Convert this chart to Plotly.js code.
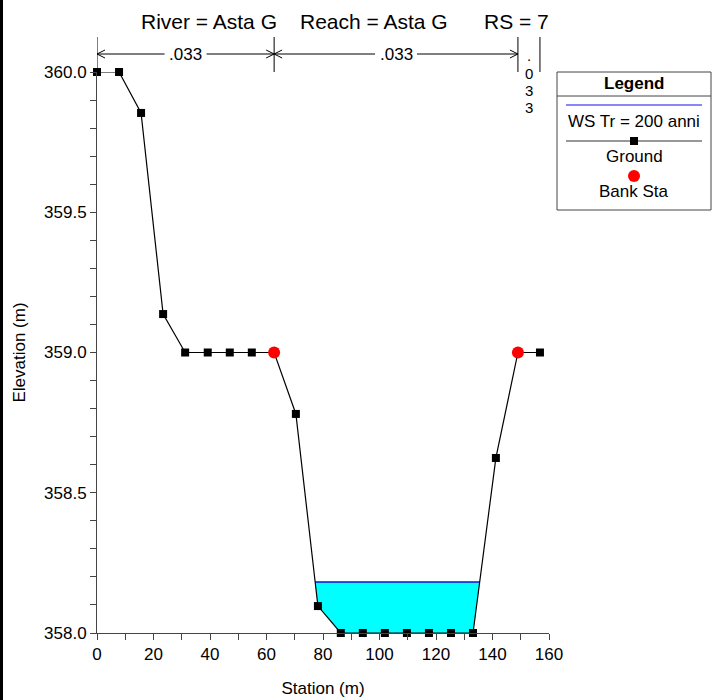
<!DOCTYPE html>
<html>
<head>
<meta charset="utf-8">
<script src="https://cdn.plot.ly/plotly-3.0.1.min.js"></script>
<style>
html,body{margin:0;padding:0;background:#fff;}
#chart{width:712px;height:700px;}
</style>
</head>
<body>
<div id="chart"></div>
<script>
// ---- Data ----
const groundStation = [0, 7.8, 15.6, 23.4, 31.2, 39.2, 47.0, 54.8, 62.7, 70.4, 78.2, 86.3, 94.1, 101.9, 109.7, 117.5, 125.3, 133.1, 141.2, 149.0, 156.8];
const groundElev    = [360.0, 360.0, 359.854, 359.137, 359.0, 359.0, 359.0, 359.0, 359.0, 358.781, 358.096, 358.0, 358.0, 358.0, 358.0, 358.0, 358.0, 358.0, 358.624, 359.0, 359.0];
const bankStation = [62.7, 149.0];
const bankElev    = [359.0, 359.0];
const wsElev = 358.182;
const nValues = ['.033', '.033', '.033'];
const titleParts = ['River = Asta G', 'Reach = Asta G', 'RS = 7'];
const legendLabels = ['WS Tr = 200 anni', 'Ground', 'Bank Sta'];

// ---- Geometry helpers ----
const W = 712, H = 700, mL = 97, mR = 163, mT = 72, mB = 67;
const plotW = W - mL - mR, plotH = H - mT - mB;
const xRange = [0, 160];
const pxToPaperX = px => (px - mL) / plotW;
const pxToPaperY = py => (H - mB - py) / plotH;
const unitsToPx = u => u * plotW / (xRange[1] - xRange[0]);
const pxToUnits = p => p * (xRange[1] - xRange[0]) / plotW;

// water polygon from ground & WS intersection
function crossX(i) {
  const x0 = groundStation[i], x1 = groundStation[i+1], y0 = groundElev[i], y1 = groundElev[i+1];
  return x0 + (wsElev - y0) / (y1 - y0) * (x1 - x0);
}
let li = -1, ri = -1;
for (let i = 0; i < groundStation.length - 1; i++) {
  if (li < 0 && groundElev[i] > wsElev && groundElev[i+1] <= wsElev) li = i;
  if (groundElev[i] <= wsElev && groundElev[i+1] > wsElev) ri = i;
}
const xl = crossX(li), xr = crossX(ri);
const polyX = [xl], polyY = [wsElev];
for (let i = li + 1; i <= ri; i++) { polyX.push(groundStation[i]); polyY.push(groundElev[i]); }
polyX.push(xr, xl); polyY.push(wsElev, wsElev);

const traces = [
  {x: polyX, y: polyY, mode: 'lines', fill: 'toself', fillcolor: '#00FFFF', line: {width: 0}, hoverinfo: 'skip', showlegend: false},
  {x: [xl, xr], y: [wsElev, wsElev], mode: 'lines', line: {color: '#1010D0', width: 1.6}, name: legendLabels[0], showlegend: false},
  {x: groundStation, y: groundElev, mode: 'lines+markers', line: {color: '#000', width: 1.2},
   marker: {symbol: 'square', size: 8, color: '#000'}, name: legendLabels[1], showlegend: false, cliponaxis: false},
  {x: bankStation, y: bankElev, mode: 'markers', marker: {symbol: 'circle', size: 12, color: '#FF0000'},
   name: legendLabels[2], showlegend: false, cliponaxis: false}
];

// ---- Manning n markers ----
const nStations = [groundStation[0], bankStation[0], bankStation[1], groundStation[groundStation.length - 1]];
const shapes = [], annotations = [];
const font = 'Arial, "Liberation Sans", sans-serif';
const vTop = pxToPaperY(37), vBot = pxToPaperY(72), arrY = pxToPaperY(54);
nStations.forEach(s => shapes.push({type: 'line', xref: 'x', yref: 'paper', x0: s, x1: s, y0: vBot, y1: vTop, line: {color: '#000', width: 1}}));
for (let k = 0; k < nValues.length; k++) {
  const a = nStations[k], b = nStations[k+1];
  const wpx = unitsToPx(b - a);
  const mid = (a + b) / 2;
  if (wpx > 50) {
    const gap = pxToUnits(21);
    shapes.push({type: 'line', xref: 'x', yref: 'paper', x0: a, x1: mid - gap, y0: arrY, y1: arrY, line: {color: '#000', width: 1}});
    shapes.push({type: 'line', xref: 'x', yref: 'paper', x0: mid + gap, x1: b, y0: arrY, y1: arrY, line: {color: '#000', width: 1}});
    [[a, 1], [b, -1]].forEach(([s, d]) => {
      [4, -4].forEach(dy => shapes.push({type: 'line', xref: 'x', yref: 'paper', xsizemode: 'pixel', ysizemode: 'pixel',
        xanchor: s, yanchor: arrY, x0: 0, x1: 8 * d, y0: 0, y1: dy, line: {color: '#000', width: 1}}));
    });
    annotations.push({xref: 'x', yref: 'paper', x: mid, y: arrY, text: nValues[k], showarrow: false,
      font: {family: font, size: 17, color: '#000'}, xanchor: 'center', yanchor: 'middle'});
  } else {
    nValues[k].split('').forEach((c, j) => annotations.push({xref: 'x', yref: 'paper', x: mid, y: pxToPaperY(56 + 17.2 * j), text: c,
      showarrow: false, font: {family: font, size: 15, color: '#000'}, xanchor: 'center', yanchor: 'middle'}));
  }
}

// ---- Title pieces ----
const titleCenters = [209, 374, 516];
titleParts.forEach((t, i) => annotations.push({xref: 'paper', yref: 'paper', x: pxToPaperX(titleCenters[i]), y: pxToPaperY(21),
  text: t, showarrow: false, font: {family: font, size: 21, color: '#000'}, xanchor: 'center', yanchor: 'middle'}));

// ---- Custom legend box ----
const lgX0 = pxToPaperX(557), lgX1 = pxToPaperX(711), lgC = pxToPaperX(634);
const lgText = (t, py) => annotations.push({xref: 'paper', yref: 'paper', x: lgC, y: pxToPaperY(py), text: t, showarrow: false,
  font: {family: font, size: 17, color: '#000'}, xanchor: 'center', yanchor: 'middle'});
shapes.push({type: 'rect', xref: 'paper', yref: 'paper', x0: lgX0, x1: lgX1, y0: pxToPaperY(210), y1: pxToPaperY(72), line: {color: '#444', width: 1}, fillcolor: 'rgba(0,0,0,0)'});
shapes.push({type: 'line', xref: 'paper', yref: 'paper', x0: lgX0, x1: lgX1, y0: pxToPaperY(96), y1: pxToPaperY(96), line: {color: '#444', width: 1}});
lgText('<b>Legend</b>', 83);
shapes.push({type: 'line', xref: 'paper', yref: 'paper', x0: pxToPaperX(566), x1: pxToPaperX(702), y0: pxToPaperY(105), y1: pxToPaperY(105), line: {color: '#1010F0', width: 1.2}});
lgText(legendLabels[0], 121);
shapes.push({type: 'line', xref: 'paper', yref: 'paper', x0: pxToPaperX(566), x1: pxToPaperX(702), y0: pxToPaperY(141), y1: pxToPaperY(141), line: {color: '#333', width: 1.2}});
shapes.push({type: 'rect', xref: 'paper', yref: 'paper', xsizemode: 'pixel', ysizemode: 'pixel', xanchor: lgC, yanchor: pxToPaperY(141),
  x0: -4, x1: 4, y0: -4, y1: 4, fillcolor: '#000', line: {width: 0}});
lgText(legendLabels[1], 156);
shapes.push({type: 'circle', xref: 'paper', yref: 'paper', xsizemode: 'pixel', ysizemode: 'pixel', xanchor: lgC, yanchor: pxToPaperY(176),
  x0: -6, x1: 6, y0: -6, y1: 6, fillcolor: '#FF0000', line: {width: 0}});
lgText(legendLabels[2], 191);

// left frame edge
shapes.push({type: 'line', xref: 'paper', yref: 'paper', x0: pxToPaperX(1.5), x1: pxToPaperX(1.5), y0: pxToPaperY(-5), y1: pxToPaperY(705), line: {color: '#000', width: 3}});

const layout = {
  width: W, height: H,
  margin: {l: mL, r: mR, t: mT, b: mB, pad: 0},
  paper_bgcolor: '#fff', plot_bgcolor: '#fff',
  showlegend: false,
  font: {family: font, color: '#000'},
  xaxis: {
    range: xRange, dtick: 20, tick0: 0, ticks: 'outside', ticklen: 6, tickwidth: 1, tickcolor: '#444',
    showline: true, linecolor: '#444', linewidth: 1, showgrid: false, zeroline: false,
    tickfont: {family: font, size: 17, color: '#000'},
    minor: {dtick: 10, ticks: 'outside', ticklen: 6, tickcolor: '#444', showgrid: false},
    title: {text: 'Station (m)', font: {family: font, size: 17, color: '#000'}, standoff: 18},
    automargin: false
  },
  yaxis: {
    range: [358, 360], dtick: 0.5, tick0: 358, tickformat: '.1f', ticks: 'outside', ticklen: 6, tickwidth: 1, tickcolor: '#444',
    showline: true, linecolor: '#444', linewidth: 1, showgrid: false, zeroline: false,
    tickfont: {family: font, size: 17, color: '#000'},
    minor: {dtick: 0.1, ticks: 'outside', ticklen: 6, tickcolor: '#444', showgrid: false},
    title: {text: 'Elevation (m)', font: {family: font, size: 17, color: '#000'}, standoff: 14},
    automargin: false
  },
  shapes: shapes,
  annotations: annotations
};

Plotly.newPlot('chart', traces, layout, {displayModeBar: false, staticPlot: true});
</script>
</body>
</html>
